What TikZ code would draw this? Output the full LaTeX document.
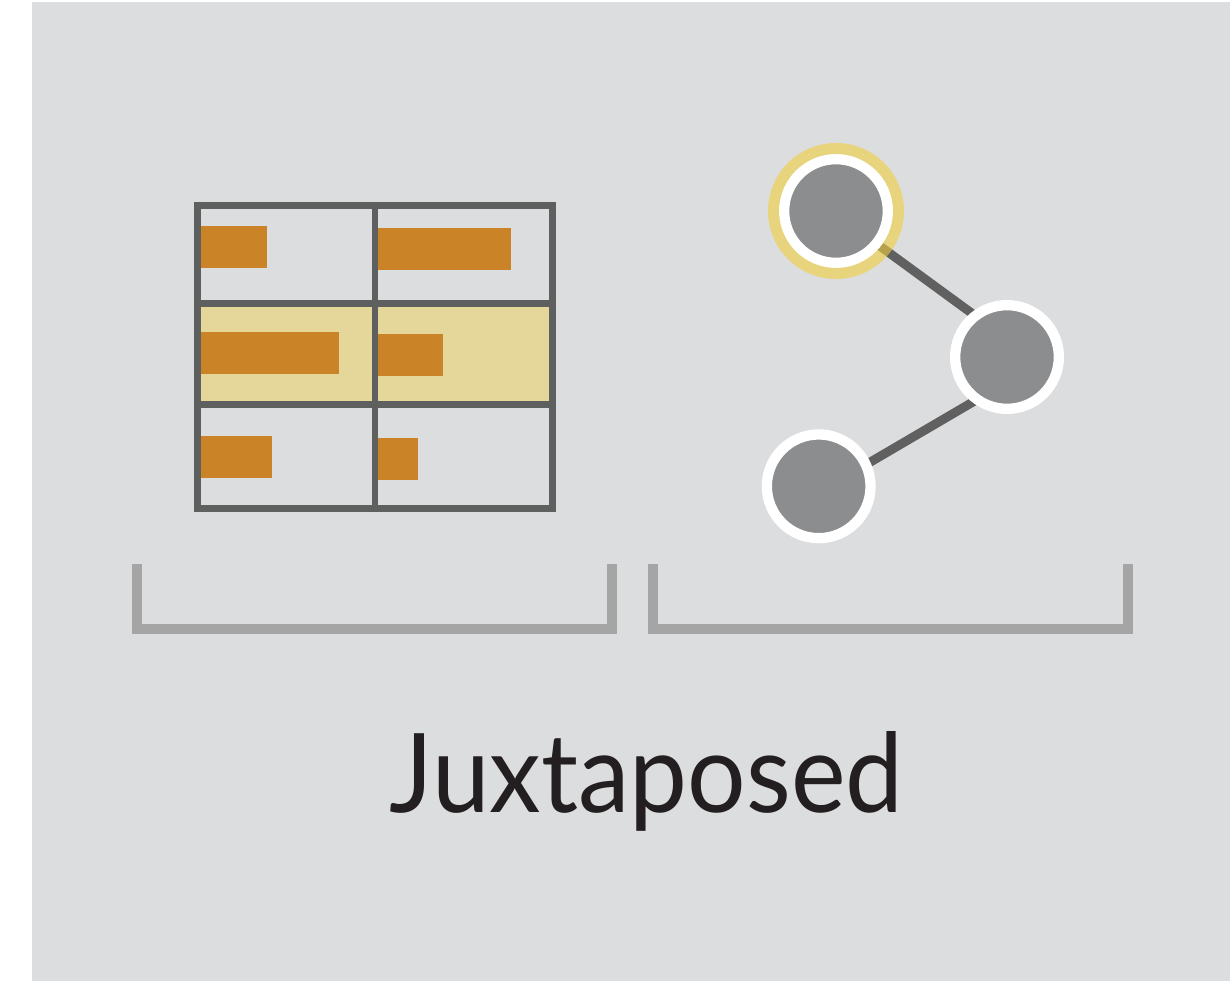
\documentclass[tikz,border=0pt]{standalone}
\usepackage{fontspec}
\setmainfont{Lato}
\definecolor{panel}{HTML}{DCDDDF}
\definecolor{gridc}{HTML}{5E5F5F}
\definecolor{hilite}{HTML}{E5D699}
\definecolor{bar}{HTML}{CB8328}
\definecolor{dot}{HTML}{8C8D8F}
\definecolor{ring}{RGB}{240,206,61}
\definecolor{edgec}{HTML}{606060}
\definecolor{brack}{HTML}{A5A5A5}
\definecolor{txt}{HTML}{231F20}
\pgfdeclarelayer{bg}
\pgfdeclarelayer{links}
\pgfsetlayers{bg,links,main}
\tikzset{
  gridline/.style={draw=gridc, line width=6.7pt},
  barbox/.style={fill=bar},
  vertex/.style={circle, fill=dot, draw=white, line width=10.3pt, inner sep=0pt, minimum size=103.7pt},
  halo/.style={draw=ring, line width=11pt, opacity=0.6},
  link/.style={draw=edgec, line width=9pt},
  bracket/.style={draw=brack, line width=10pt},
}
\begin{document}
\begin{tikzpicture}[x=1pt,y=-1pt]
\useasboundingbox (0,0) rectangle (1230,981);
\begin{pgfonlayer}{bg}
\fill[white] (0,0) rectangle (1230,981);
\fill[panel] (32,2) rectangle (1230,981);
\end{pgfonlayer}
% table
\fill[hilite] (197.5,303.3) rectangle (552.5,404.3);
\fill[barbox] (200.7,226) rectangle (267,268);
\fill[barbox] (377.7,228) rectangle (511,270);
\fill[barbox] (200.7,332) rectangle (339,374);
\fill[barbox] (377.7,334) rectangle (443,376);
\fill[barbox] (200.7,436) rectangle (272,478);
\fill[barbox] (377.7,438) rectangle (418,480);
\draw[gridline] (197.5,205.5) rectangle (552.5,508.5);
\draw[gridline] (375,205.5) -- (375,508.5);
\draw[gridline] (197.5,303.3) -- (552.5,303.3);
\draw[gridline] (197.5,404.3) -- (552.5,404.3);
% graph
\node[vertex] (t) at (836,211) {};
\node[vertex] (m) at (1007,357) {};
\node[vertex] (b) at (818.7,486.3) {};
\begin{pgfonlayer}{links}
\draw[link] ([yshift=-3pt]t.center) -- ([yshift=18pt]m.center);
\draw[link] ([yshift=-6pt]b.center) -- ([yshift=-25pt]m.center);
\end{pgfonlayer}
\draw[halo] (t.center) circle[radius=62.5];
% brackets
\draw[bracket] (136.7,564.3) -- (136.7,628.7) -- (611.6,628.7) -- (611.6,564.3);
\draw[bracket] (653,564.3) -- (653,628.7) -- (1128,628.7) -- (1128,564.3);
% label
\node[anchor=base, text=txt, inner sep=0pt, font=\fontsize{110}{120}\selectfont] (lbl) at (646.5,812) {\scalebox{0.94}[1]{Juxtaposed}};
\end{tikzpicture}
\end{document}
